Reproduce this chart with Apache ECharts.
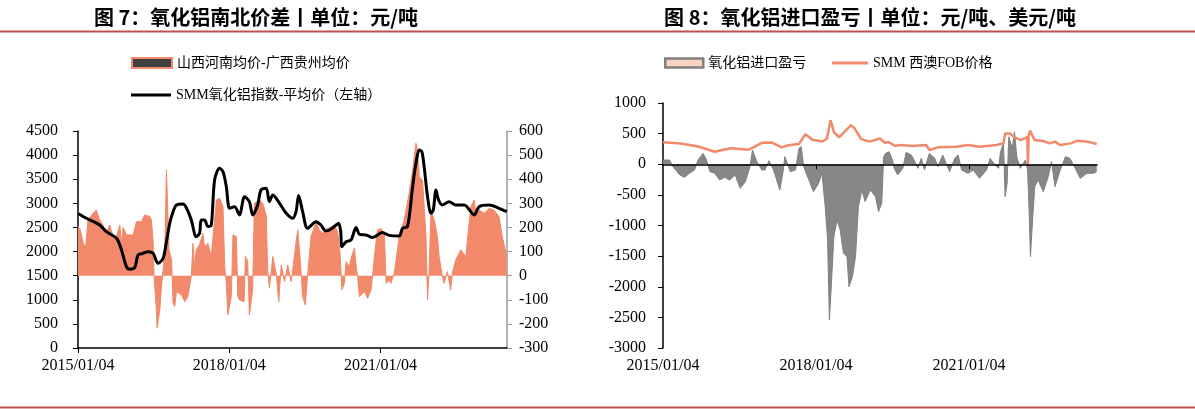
<!DOCTYPE html>
<html><head><meta charset="utf-8">
<script src="https://cdn.jsdelivr.net/npm/echarts@6/dist/echarts.min.js"></script>
<style>html,body{margin:0;padding:0;background:#fff}#c{width:1195px;height:409px}</style>
</head><body><div id="c"></div>
<script>
// ---------- data ----------
const xTickLabels = ['2015/01/04', '2018/01/04', '2021/01/04'];
const xStart = '2015-01-04';
const xEnd = '2023-07-10';

// Chart 7: 山西河南均价-广西贵州均价 (right axis)
const spreadDates = ['2015-01-04','2015-01-20','2015-02-11','2015-03-01','2015-03-17','2015-04-23','2015-05-17','2015-06-10','2015-07-04','2015-07-28','2015-08-21','2015-09-15','2015-10-10','2015-11-03','2015-11-15','2015-11-27','2015-12-21','2016-02-08','2016-03-02','2016-04-08','2016-05-01','2016-06-07','2016-06-19','2016-07-01','2016-07-08','2016-07-25','2016-07-30','2016-08-19','2016-08-31','2016-09-12','2016-09-24','2016-10-06','2016-10-18','2016-10-25','2016-11-12','2016-11-23','2016-12-05','2016-12-18','2017-01-23','2017-02-16','2017-03-10','2017-04-04','2017-04-16','2017-04-28','2017-05-10','2017-06-03','2017-06-27','2017-07-09','2017-08-03','2017-08-27','2017-10-03','2017-10-26','2017-11-20','2017-12-02','2017-12-14','2017-12-25','2018-01-02','2018-01-19','2018-01-31','2018-02-12','2018-02-25','2018-03-07','2018-03-19','2018-04-01','2018-04-22','2018-05-01','2018-05-18','2018-05-30','2018-06-12','2018-06-23','2018-07-05','2018-08-11','2018-09-04','2018-09-29','2018-10-10','2018-10-22','2018-11-04','2018-11-16','2018-12-10','2018-12-29','2019-01-16','2019-02-09','2019-03-04','2019-03-28','2019-04-09','2019-05-03','2019-05-16','2019-06-01','2019-06-20','2019-07-09','2019-07-26','2019-08-20','2019-09-26','2019-10-19','2019-11-12','2019-12-19','2020-01-24','2020-02-18','2020-03-01','2020-03-17','2020-03-31','2020-04-17','2020-04-30','2020-05-23','2020-06-05','2020-06-29','2020-07-06','2020-07-15','2020-07-22','2020-08-04','2020-08-16','2020-09-09','2020-10-03','2020-10-28','2020-11-08','2020-11-21','2020-12-03','2020-12-14','2021-01-09','2021-02-02','2021-02-14','2021-03-08','2021-03-20','2021-04-14','2021-04-26','2021-05-20','2021-06-25','2021-07-31','2021-08-25','2021-09-18','2021-09-30','2021-10-12','2021-11-05','2021-11-30','2021-12-11','2021-12-23','2022-01-05','2022-01-29','2022-02-21','2022-03-05','2022-03-28','2022-04-10','2022-05-04','2022-05-28','2022-06-09','2022-07-03','2022-08-09','2022-09-14','2022-10-21','2022-11-14','2022-11-26','2022-12-20','2023-01-25','2023-03-03','2023-04-07','2023-05-13','2023-06-06','2023-07-08'];
const spreadValues = [205,190,134,120,231,259,272,231,210,176,210,162,162,210,134,200,169,169,224,224,252,245,231,148,0,-142,-218,-142,-45,24,107,438,431,107,65,-114,-128,-66,-80,-108,-87,-4,134,37,107,130,176,120,134,79,314,321,286,40,-32,-163,-170,-87,169,176,162,-87,-101,-101,-108,80,60,-163,-170,-60,300,314,300,250,20,-52,-52,80,10,-108,44,-25,44,-25,23,140,190,79,-87,-122,0,165,220,190,176,197,203,197,176,93,-59,-32,58,37,72,114,120,23,0,-87,-87,-66,-94,-59,0,79,141,190,195,169,-32,-18,-32,10,17,162,231,342,438,549,521,410,397,162,-101,23,272,231,162,79,0,-32,17,-59,10,65,107,79,286,314,259,272,259,279,272,245,162,79];

// Chart 7: SMM氧化铝指数-平均价 (left axis)
const indexDates = ['2015-01-04','2015-03-06','2015-06-10','2015-07-28','2015-10-10','2015-11-15','2015-12-21','2016-01-14','2016-02-20','2016-03-14','2016-04-20','2016-05-26','2016-07-01','2016-08-06','2016-09-12','2016-10-06','2016-10-30','2016-11-23','2016-12-18','2017-02-04','2017-03-01','2017-04-04','2017-05-10','2017-06-03','2017-06-15','2017-07-09','2017-08-03','2017-08-27','2017-09-20','2017-10-26','2017-11-20','2017-12-14','2018-01-07','2018-02-12','2018-03-19','2018-04-25','2018-05-30','2018-06-23','2018-07-29','2018-08-22','2018-09-29','2018-10-22','2018-11-16','2019-01-04','2019-02-21','2019-04-09','2019-05-03','2019-05-22','2019-06-20','2019-07-26','2019-09-26','2019-10-30','2019-12-04','2020-01-01','2020-02-18','2020-03-07','2020-03-22','2020-03-31','2020-04-30','2020-06-05','2020-07-11','2020-08-04','2020-09-21','2020-11-08','2021-01-18','2021-03-08','2021-05-20','2021-06-13','2021-07-19','2021-08-25','2021-09-18','2021-10-12','2021-10-31','2021-11-18','2021-12-11','2022-01-05','2022-01-22','2022-02-10','2022-03-01','2022-03-28','2022-05-16','2022-07-03','2022-09-03','2022-11-14','2022-12-20','2023-03-03','2023-05-13','2023-07-08'];
const indexValues = [2790,2690,2551,2412,2275,2033,1686,1632,1673,1929,1964,1998,1964,1756,1860,2205,2586,2827,2966,2986,2897,2655,2309,2379,2655,2655,2517,2551,3484,3727,3657,3346,2897,2931,2759,3139,3034,2759,2966,3277,3312,3034,3173,3000,2793,2690,2827,3165,2827,2483,2620,2551,2430,2448,2551,2586,2412,2101,2205,2240,2500,2360,2344,2290,2395,2335,2323,2483,2517,3346,3830,4107,4072,3727,3139,2793,2862,3277,3069,2966,3034,2966,2966,2759,2931,2966,2897,2827];

// Chart 8: 氧化铝进口盈亏
const importDates = ['2015-01-04','2015-02-20','2015-03-13','2015-05-04','2015-06-06','2015-07-12','2015-08-18','2015-09-12','2015-10-18','2015-11-12','2015-12-06','2016-01-10','2016-02-14','2016-03-20','2016-04-26','2016-06-04','2016-07-10','2016-08-16','2016-09-18','2016-10-06','2016-11-06','2016-12-12','2017-01-04','2017-02-01','2017-03-06','2017-04-20','2017-05-15','2017-05-26','2017-07-04','2017-08-10','2017-09-04','2017-09-20','2017-10-08','2017-11-14','2017-12-17','2018-01-23','2018-02-16','2018-03-12','2018-03-28','2018-04-10','2018-04-22','2018-05-12','2018-06-04','2018-06-26','2018-07-20','2018-08-14','2018-08-28','2018-09-22','2018-10-14','2018-11-04','2018-11-28','2018-12-22','2019-01-28','2019-03-06','2019-03-28','2019-04-20','2019-05-04','2019-05-18','2019-06-12','2019-07-06','2019-07-18','2019-08-12','2019-08-24','2019-09-18','2019-10-12','2019-11-18','2019-12-08','2020-01-04','2020-01-28','2020-02-20','2020-03-26','2020-05-04','2020-05-26','2020-06-30','2020-07-24','2020-08-18','2020-09-24','2020-10-18','2020-11-12','2020-12-28','2021-02-04','2021-03-20','2021-05-10','2021-06-04','2021-07-10','2021-08-04','2021-08-18','2021-09-08','2021-09-20','2021-10-04','2021-10-16','2021-11-10','2021-11-26','2021-12-12','2022-01-06','2022-02-12','2022-02-28','2022-03-12','2022-03-20','2022-04-06','2022-04-20','2022-05-14','2022-06-20','2022-07-26','2022-08-18','2022-09-12','2022-10-20','2022-11-26','2022-12-28','2023-02-04','2023-03-12','2023-04-28','2023-06-14','2023-07-08'];
const importValues = [69,69,-29,-175,-213,-148,-94,69,178,69,-121,-148,-257,-213,-257,-175,-393,-284,-39,232,42,-94,-94,58,-94,-420,-94,124,-121,-94,260,287,-39,-257,-447,-311,-148,-719,-1236,-2542,-2053,-1182,-910,-1073,-1454,-1508,-1998,-1835,-1508,-692,-420,-610,-420,-529,-773,-638,124,178,205,69,-67,-175,-202,-67,194,151,69,-67,96,-94,178,96,-39,151,15,-121,96,151,-94,-148,-94,-230,-94,96,-12,-67,205,341,-529,-311,450,260,531,124,-67,69,-94,-856,-1509,-856,-366,-257,-447,-202,42,-366,-94,124,96,-67,-230,-148,-148,-121];

// Chart 8: SMM 西澳FOB价格
const fobDates = ['2015-01-04','2015-05-13','2015-09-13','2016-01-10','2016-03-20','2016-05-10','2016-09-06','2016-09-28','2016-12-12','2017-02-22','2017-05-04','2017-06-20','2017-09-04','2017-10-20','2017-12-10','2018-02-20','2018-03-24','2018-04-18','2018-05-12','2018-06-18','2018-09-12','2018-10-06','2018-11-24','2019-01-24','2019-04-06','2019-05-12','2019-06-04','2019-07-24','2019-09-01','2019-11-26','2020-03-04','2020-03-26','2020-05-26','2020-10-06','2020-12-28','2021-03-20','2021-07-20','2021-09-08','2021-09-20','2021-10-25','2021-11-20','2022-01-06','2022-02-10','2022-02-26','2022-03-02','2022-03-07','2022-03-18','2022-04-18','2022-06-18','2022-08-06','2022-09-12','2022-10-18','2023-01-04','2023-02-20','2023-05-04','2023-07-08'];
const fobValues = [360,340,290,205,240,260,235,260,350,355,276,310,330,490,400,370,420,720,530,440,640,590,410,370,420,350,365,300,314,298,314,232,276,287,314,287,314,341,504,504,450,396,423,450,0,470,548,396,380,341,369,314,341,385,369,330];

// ---------- chart ----------
const ts = s => Date.parse(s.replace(/\//g, '-'));
const tickValues = xTickLabels.map(ts);
const xMin = ts(xStart), xMax = ts(xEnd);
const fmtX = v => { const i = tickValues.indexOf(v); return i >= 0 ? xTickLabels[i] : ''; };
const fmtY = v => String(v);
const pairs = (d, v) => d.map((s, i) => [ts(s), v[i]]);

const serif = "'Liberation Serif','Times New Roman','Noto Sans CJK SC',serif";
const lblStyle = { color: '#000', fontSize: 16, fontFamily: serif };
const legendFont = { color: '#000', fontSize: 14, fontFamily: serif };
const ORANGE = '#F1896A';

const chart = echarts.init(document.getElementById('c'), null, { renderer: 'canvas' });
chart.setOption({
  animation: false,
  backgroundColor: '#fff',
  graphic: [
    { type: 'text', x: 256, y: 17, style: { text: '图 7：氧化铝南北价差丨单位：元/吨', fill: '#000', font: "bold 20px 'Noto Sans CJK SC'", textAlign: 'center', textVerticalAlign: 'middle' } },
    { type: 'text', x: 870, y: 17, style: { text: '图 8：氧化铝进口盈亏丨单位：元/吨、美元/吨', fill: '#000', font: "bold 20px 'Noto Sans CJK SC'", textAlign: 'center', textVerticalAlign: 'middle' } },
    { type: 'line', shape: { x1: 0, y1: 31.5, x2: 1195, y2: 31.5 }, style: { stroke: '#C0504D', lineWidth: 2 } },
    { type: 'line', shape: { x1: 0, y1: 407.5, x2: 1195, y2: 407.5 }, style: { stroke: '#C0504D', lineWidth: 2 } }
  ],
  legend: [
    {
      left: 131, top: 56, padding: 0, itemWidth: 40, itemHeight: 10, textStyle: legendFont,
      data: [{ name: '山西河南均价-广西贵州均价', icon: 'rect', itemStyle: { color: '#404040', borderColor: ORANGE, borderWidth: 2 } }]
    },
    {
      left: 131, top: 88, padding: 0, itemWidth: 40, itemHeight: 3, textStyle: legendFont,
      data: [{ name: 'SMM氧化铝指数-平均价（左轴）', icon: 'rect', itemStyle: { color: '#000', borderWidth: 0 } }]
    },
    {
      left: 664, top: 56, padding: 0, itemWidth: 38, itemHeight: 9, textStyle: legendFont,
      data: [{ name: '氧化铝进口盈亏', icon: 'rect', itemStyle: { color: '#FAD2C2', borderColor: '#7F7F7F', borderWidth: 2.5 } }]
    },
    {
      left: 832, top: 56, padding: 0, itemWidth: 36, itemHeight: 3, textStyle: legendFont,
      data: [{ name: 'SMM 西澳FOB价格', icon: 'rect', itemStyle: { color: ORANGE, borderWidth: 0 } }]
    }
  ],
  grid: [
    { left: 78, top: 131, width: 429, height: 217 },
    { left: 663, top: 103, width: 434, height: 245 }
  ],
  xAxis: [
    {
      gridIndex: 0, type: 'value', min: xMin, max: xMax, position: 'bottom',
      axisLine: { onZero: false, lineStyle: { color: '#000', width: 1.5 } },
      axisTick: { customValues: tickValues, length: 5, lineStyle: { color: '#000' } },
      axisLabel: { customValues: tickValues, formatter: fmtX, margin: 10, ...lblStyle },
      splitLine: { show: false }
    },
    {
      gridIndex: 1, type: 'value', min: xMin, max: xMax, position: 'top', z: 10,
      axisLine: { onZero: true, lineStyle: { color: '#000', width: 1.5 } },
      axisTick: { inside: true, customValues: tickValues.slice(1), length: 5, lineStyle: { color: '#000' } },
      axisLabel: { show: false },
      splitLine: { show: false }
    },
    {
      gridIndex: 1, type: 'value', min: xMin, max: xMax, position: 'bottom',
      axisLine: { show: false, onZero: false },
      axisTick: { show: false },
      axisLabel: { customValues: tickValues, formatter: fmtX, margin: 10, ...lblStyle },
      splitLine: { show: false }
    }
  ],
  yAxis: [
    {
      gridIndex: 0, type: 'value', min: 0, max: 4500, interval: 500, position: 'left',
      axisLine: { show: true, lineStyle: { color: '#000', width: 1.5 } },
      axisTick: { show: true, length: 5, lineStyle: { color: '#000' } },
      axisLabel: { margin: 20, formatter: fmtY, ...lblStyle },
      splitLine: { show: false }
    },
    {
      gridIndex: 0, type: 'value', min: -300, max: 600, interval: 100, position: 'right',
      axisLine: { show: true, onZero: false, lineStyle: { color: '#9a9a9a', width: 1.5 } },
      axisTick: { show: true, length: 5, lineStyle: { color: '#9a9a9a' } },
      axisLabel: { margin: 12, formatter: fmtY, ...lblStyle },
      splitLine: { show: false }
    },
    {
      gridIndex: 1, type: 'value', min: -3000, max: 1000, interval: 500, position: 'left',
      axisLine: { show: true, onZero: false, lineStyle: { color: '#000', width: 1.5 } },
      axisTick: { show: true, length: 5, lineStyle: { color: '#000' } },
      axisLabel: { margin: 17, formatter: fmtY, ...lblStyle },
      splitLine: { show: false }
    }
  ],
  series: [
    {
      name: '山西河南均价-广西贵州均价', type: 'line', xAxisIndex: 0, yAxisIndex: 1,
      data: pairs(spreadDates, spreadValues), symbol: 'none',
      lineStyle: { color: ORANGE, width: 1 }, itemStyle: { color: ORANGE },
      areaStyle: { color: ORANGE, opacity: 1 }, z: 1
    },
    {
      name: 'SMM氧化铝指数-平均价（左轴）', type: 'line', xAxisIndex: 0, yAxisIndex: 0,
      data: pairs(indexDates, indexValues), symbol: 'none', smooth: 0.3,
      lineStyle: { color: '#000', width: 3 }, itemStyle: { color: '#000' }, z: 3
    },
    {
      name: '氧化铝进口盈亏', type: 'line', xAxisIndex: 1, yAxisIndex: 2,
      data: pairs(importDates, importValues), symbol: 'none',
      lineStyle: { color: '#808080', width: 1 }, itemStyle: { color: '#808080' },
      areaStyle: { color: '#878787', opacity: 1 }, z: 1
    },
    {
      name: 'SMM 西澳FOB价格', type: 'line', xAxisIndex: 1, yAxisIndex: 2,
      data: pairs(fobDates, fobValues), symbol: 'none',
      lineStyle: { color: ORANGE, width: 2.5 }, itemStyle: { color: ORANGE }, z: 3
    }
  ]
});
</script>
</body></html>
